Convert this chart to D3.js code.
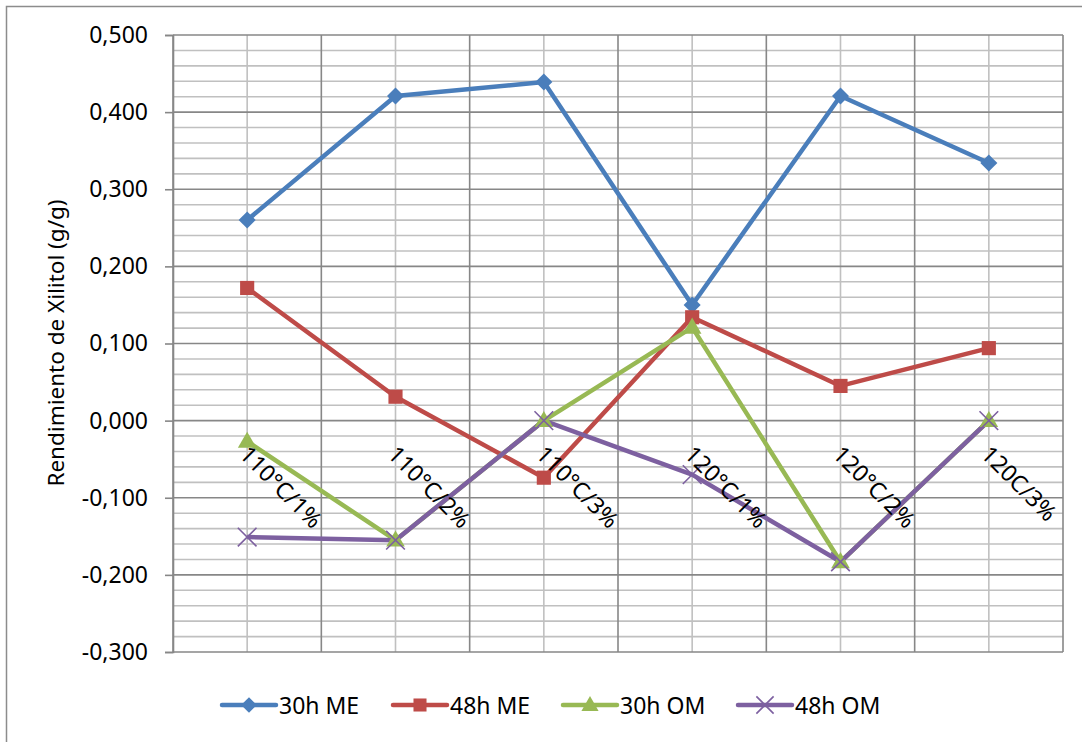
<!DOCTYPE html>
<html>
<head>
<meta charset="utf-8">
<script src="https://cdn.jsdelivr.net/npm/d3@7"></script>
<style>
  html, body { margin: 0; padding: 0; background: #fff; }
  svg { display: block; font-family: "Noto Sans", "Open Sans", sans-serif; }
</style>
</head>
<body>
<svg id="chart" width="1082" height="742"></svg>
<script>
// Xylitol yield by temperature / acid concentration condition
const categories = ["110°C/1%", "110°C/2%", "110°C/3%", "120°C/1%", "120°C/2%", "120C/3%"];
const seriesNames = ["30h ME", "48h ME", "30h OM", "48h OM"];
const me30 = [0.260, 0.421, 0.439, 0.150, 0.421, 0.334];
const me48 = [0.172, 0.031, -0.074, 0.134, 0.045, 0.094];
const om30 = [-0.027, -0.155, 0.000, 0.121, -0.183, 0.000];
const om48 = [-0.151, -0.155, 0.000, -0.070, -0.183, 0.000];
const yTicks = [-0.3, -0.2, -0.1, 0.0, 0.1, 0.2, 0.3, 0.4, 0.5];
const yTitle = "Rendimiento de Xilitol (g/g)";

const colors = ["#4A7EBB", "#BE4B48", "#98B954", "#7D60A0"];
const markers = ["diamond", "square", "triangle", "cross"];
const seriesValues = [me30, me48, om30, om48];
const series = seriesNames.map((name, i) => ({
  name, values: seriesValues[i], color: colors[i], marker: markers[i]
}));

const svg = d3.select("#chart");
const plot = { left: 173, right: 1063, top: 35, bottom: 652 };

// Outer chart frame (runs past the right and bottom edges)
svg.append("rect")
  .attr("x", 6.5).attr("y", 6.5)
  .attr("width", 1200).attr("height", 900)
  .attr("fill", "none").attr("stroke", "#8c8c8c").attr("stroke-width", 1.5);

const x = d3.scaleBand().domain(categories).range([plot.left, plot.right]).padding(0);
const y = d3.scaleLinear().domain([-0.3, 0.5]).range([plot.bottom, plot.top]);
const cx = c => x(c) + x.bandwidth() / 2;

const grid = svg.append("g");

// Minor horizontal gridlines every 0.02
const minor = d3.range(0, 41).map(k => -0.3 + k * 0.02)
  .filter(v => Math.abs(Math.round(v * 10) - v * 10) > 1e-6);
grid.selectAll("line.hminor").data(minor).join("line")
  .attr("x1", plot.left).attr("x2", plot.right)
  .attr("y1", d => y(d)).attr("y2", d => y(d))
  .attr("stroke", "#c0c0c0").attr("stroke-width", 1.6);

// Vertical gridlines at category centres (light)
grid.selectAll("line.vminor").data(categories).join("line")
  .attr("x1", d => cx(d)).attr("x2", d => cx(d))
  .attr("y1", plot.top).attr("y2", plot.bottom)
  .attr("stroke", "#c0c0c0").attr("stroke-width", 1.6);

// Vertical gridlines at category boundaries (dark)
const bounds = categories.map(c => x(c)).concat([plot.right]);
grid.selectAll("line.vmajor").data(bounds).join("line")
  .attr("x1", d => d).attr("x2", d => d)
  .attr("y1", plot.top).attr("y2", plot.bottom)
  .attr("stroke", "#878787").attr("stroke-width", 1.6);

// Major horizontal gridlines every 0.1
grid.selectAll("line.hmajor").data(yTicks).join("line")
  .attr("x1", plot.left).attr("x2", plot.right)
  .attr("y1", d => y(d)).attr("y2", d => y(d))
  .attr("stroke", "#878787").attr("stroke-width", 1.6);

// Value axis
const fmt = v => d3.format(".3f")(v).replace(".", ",").replace("−", "-");
const yAxis = d3.axisLeft(y).tickValues(yTicks).tickSize(8).tickPadding(17).tickFormat(fmt);
const ya = svg.append("g").attr("transform", `translate(${plot.left},0)`).call(yAxis);
ya.select(".domain").attr("stroke", "#878787").attr("stroke-width", 1.6);
ya.selectAll(".tick line").attr("stroke", "#878787").attr("stroke-width", 1.6);
ya.selectAll(".tick text")
  .attr("font-size", 23).attr("fill", "#000")
  .attr("font-family", "'Noto Sans', sans-serif");

// Axis title
svg.append("text")
  .attr("transform", "translate(64,343) rotate(-90)")
  .attr("text-anchor", "middle")
  .attr("font-size", 22.5)
  .attr("fill", "#000")
  .text(yTitle);

// Series lines
const line = d3.line().x((d, i) => cx(categories[i])).y(d => y(d));
series.forEach(s => {
  svg.append("path")
    .datum(s.values)
    .attr("d", line)
    .attr("fill", "none")
    .attr("stroke", s.color)
    .attr("stroke-width", 4.5)
    .attr("stroke-linejoin", "round");
});

// Marker drawing (k scales the marker area)
function drawMarker(g, type, color, px, py, k = 1) {
  if (type === "diamond") {
    g.append("path").attr("d", d3.symbol(d3.symbolDiamond2, 185 * k)())
      .attr("transform", `translate(${px},${py})`)
      .attr("fill", color);
  } else if (type === "square") {
    g.append("path").attr("d", d3.symbol(d3.symbolSquare, 200 * k)())
      .attr("transform", `translate(${px},${py})`)
      .attr("fill", color);
  } else if (type === "triangle") {
    g.append("path").attr("d", d3.symbol(d3.symbolTriangle, 150 * k)())
      .attr("transform", `translate(${px},${py + 1})`)
      .attr("fill", color);
  } else {
    g.append("path").attr("d", d3.symbol(d3.symbolTimes, 230 * k)())
      .attr("transform", `translate(${px},${py})`)
      .attr("fill", "none").attr("stroke", color).attr("stroke-width", 1.6);
  }
}

series.forEach(s => {
  const g = svg.append("g");
  s.values.forEach((v, i) => drawMarker(g, s.marker, s.color, cx(categories[i]), y(v)));
});

// Category labels, rotated 45°, sitting under the zero line
const labels = svg.append("g");
categories.forEach(c => {
  labels.append("text")
    .attr("transform", `translate(${cx(c) - 9},${y(0) + 35}) rotate(45)`)
    .attr("text-anchor", "start")
    .attr("font-size", 23)
    .attr("fill", "#000")
    .text(c);
});

// Legend
const legendX = [222, 393, 563, 738];
const legendY = 705;
series.forEach((s, i) => {
  const g = svg.append("g");
  const x0 = legendX[i];
  g.append("line")
    .attr("x1", x0).attr("x2", x0 + 54)
    .attr("y1", legendY).attr("y2", legendY)
    .attr("stroke", s.color).attr("stroke-width", 4.5).attr("stroke-linecap", "round");
  drawMarker(g, s.marker, s.color, x0 + 27, legendY, 0.85);
  g.append("text")
    .attr("x", x0 + 57).attr("y", legendY)
    .attr("dominant-baseline", "central")
    .attr("font-size", 23)
    .attr("fill", "#000")
    .text(s.name);
});
</script>
</body>
</html>
